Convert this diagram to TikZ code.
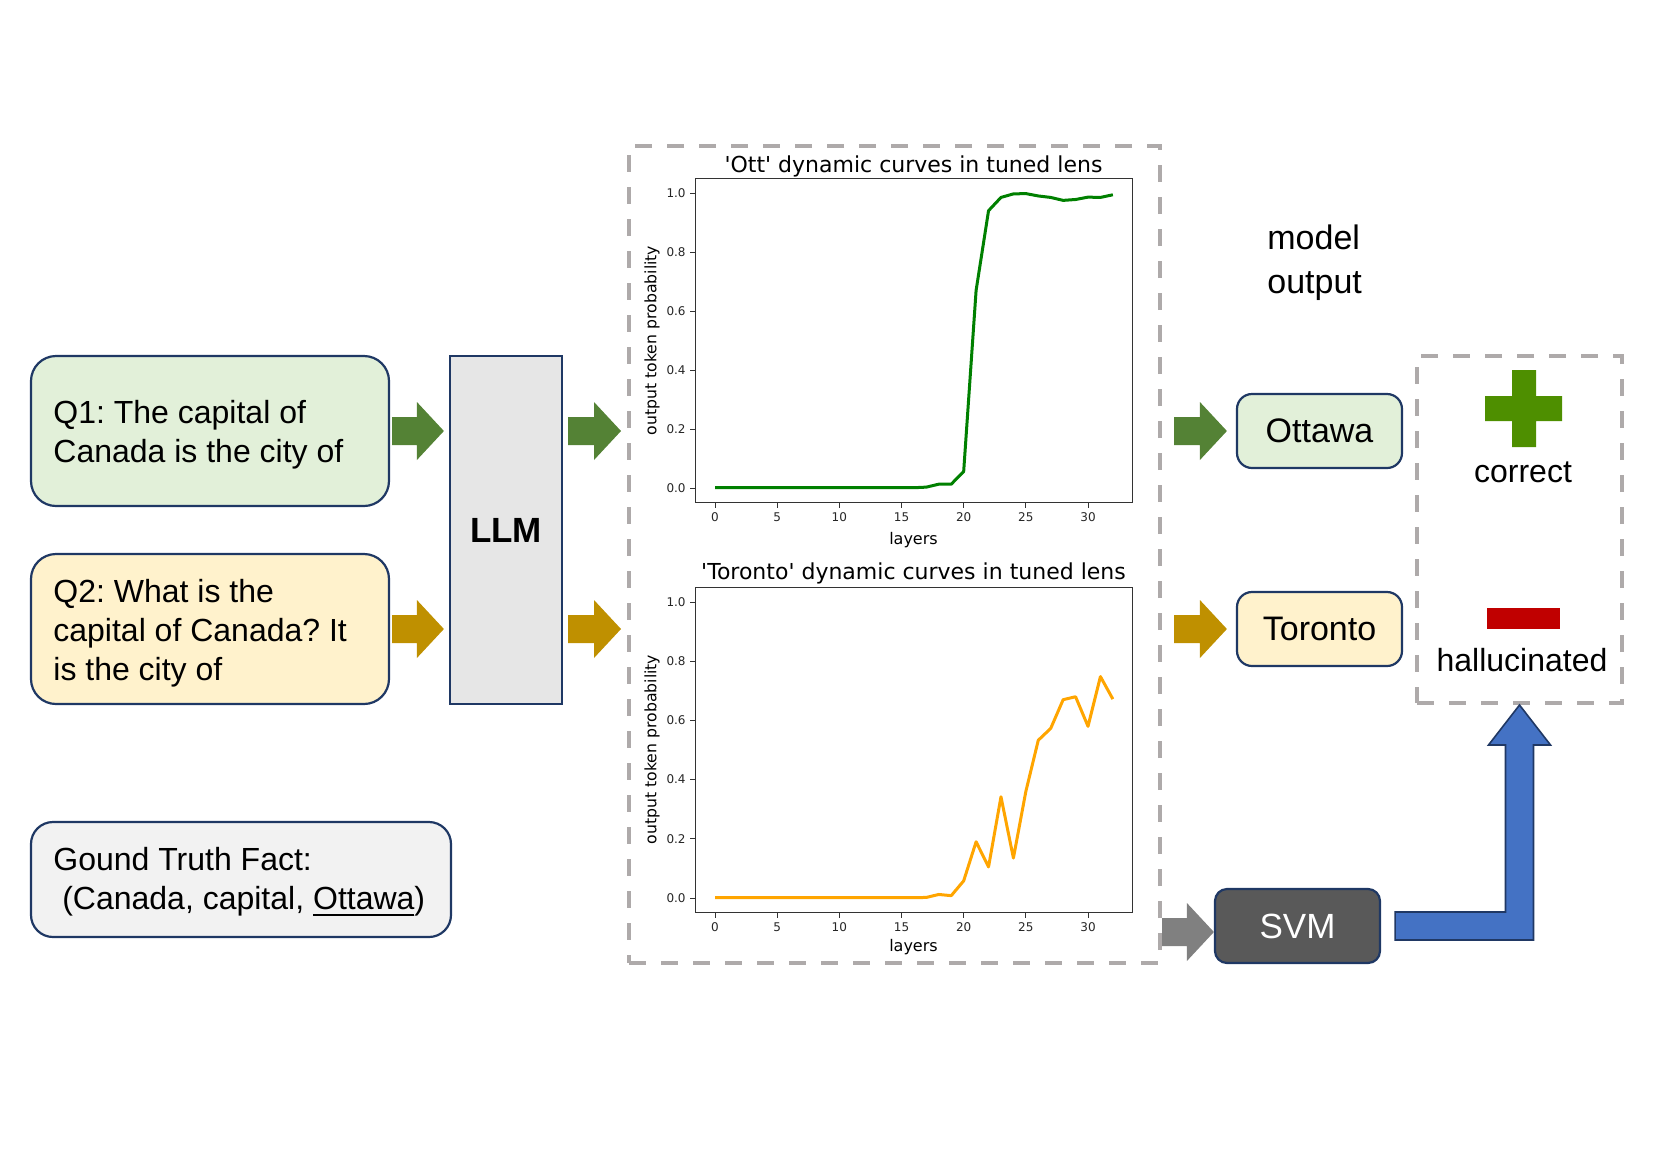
\documentclass[tikz,border=0pt]{standalone}
\usepackage{fontspec}
\setmainfont{Liberation Sans}
\newfontfamily\dejavu{DejaVu Sans}
\usetikzlibrary{calc}
\definecolor{navy}{HTML}{1F3864}
\definecolor{q1fill}{HTML}{E2F0D9}
\definecolor{q2fill}{HTML}{FFF2CC}
\definecolor{llmfill}{HTML}{E6E6E6}
\definecolor{gtfill}{HTML}{F2F2F2}
\definecolor{svmfill}{HTML}{595959}
\definecolor{dashgray}{HTML}{AEAAAA}
\definecolor{garr}{HTML}{548235}
\definecolor{yarr}{HTML}{BF9000}
\definecolor{grarr}{HTML}{808080}
\definecolor{plusgreen}{HTML}{4E8F00}
\definecolor{minusred}{HTML}{C00000}
\definecolor{bluefill}{HTML}{4472C4}
\definecolor{blueline}{HTML}{203864}
\definecolor{ottgreen}{HTML}{008000}
\definecolor{torange}{HTML}{FFA500}
\definecolor{framec}{HTML}{333333}
\definecolor{tickc}{HTML}{262626}
\newcommand\myul[1]{\sbox0{#1}\rlap{\rule[-3.2pt]{\wd0}{0.9pt}}\usebox0}
\newcommand\blockarr[3]{\fill[#3] let \p1=(#1), \p2=(#2) in
  (\x1,\y1+7pt) -- (\x2-13.5pt,\y1+7pt) -- (\x2-13.5pt,\y1+14.5pt) -- (\x2,\y1)
  -- (\x2-13.5pt,\y1-14.5pt) -- (\x2-13.5pt,\y1-7pt) -- (\x1,\y1-7pt) -- cycle;}
\newcommand\ticksfont{\dejavu\fontsize{6}{7}\selectfont}
\frenchspacing
\begin{document}
\begin{tikzpicture}[x=0.5pt,y=-0.5pt,
  bx/.style={draw=navy, line width=1.1pt, inner sep=0pt},
  dbox/.style={draw=dashgray, line width=2pt, dash pattern=on 8.5pt off 7.5pt, inner sep=0pt},
  qtxt/.style={font=\fontsize{16}{19.5}\selectfont, align=left, inner sep=0pt, anchor=north west},
  bigtxt/.style={font=\fontsize{17}{22}\selectfont},
  midtxt/.style={font=\fontsize{16}{19}\selectfont, inner sep=0pt, anchor=base},
  ttl/.style={font=\dejavu\fontsize{11}{13}\selectfont, anchor=base, inner sep=0pt},
  ylab/.style={font=\dejavu\fontsize{7.85}{9}\selectfont, rotate=90, inner sep=0pt},
  xlab/.style={font=\dejavu\fontsize{8}{9}\selectfont, inner sep=0pt},
  xtick/.style={anchor=north, inner sep=0pt, yshift=-2pt, font=\ticksfont, text=tickc},
  ytick/.style={anchor=east, inner sep=0pt, xshift=-2pt, font=\ticksfont, text=tickc},
  ]
\useasboundingbox (0,0) rectangle (1660,1174);

% left column
\node[bx, fill=q1fill, rounded corners=12.5pt, minimum width=179pt, minimum height=75pt] (q1) at (210,431) {};
\node[bx, fill=q2fill, rounded corners=12.5pt, minimum width=179pt, minimum height=75pt] (q2) at (210,629) {};
\node[qtxt] (q1t) at (53,400) {Q1: The capital of\\Canada is the city of};
\node[qtxt] (q2t) at (53,579) {Q2: What is the\\capital of Canada? It\\is the city of};
\node[bx, fill=llmfill, minimum width=56pt, minimum height=174pt, font=\fontsize{17.5}{21}\selectfont\bfseries] (llm) at (506,530) {LLM};
\node[bx, fill=gtfill, rounded corners=11pt, minimum width=210pt, minimum height=57.5pt] (gt) at (241,879.5) {};
\node[qtxt] (gtt) at (53,847) {Gound Truth Fact:\\\hspace*{4.45pt}(Canada, capital, \myul{Ottawa})};

% lens box
\node[dbox, minimum width=265.5pt, minimum height=408.5pt] (lens) at (894.5,554.5) {};

% right column
\node[bx, fill=q1fill, rounded corners=7.5pt, minimum width=82.5pt, minimum height=37pt, bigtxt] (ott) at (1319.5,431) {Ottawa};
\node[bx, fill=q2fill, rounded corners=7.5pt, minimum width=82.5pt, minimum height=37pt, bigtxt] (tor) at (1319.5,629) {Toronto};
\node[bx, fill=svmfill, text=white, rounded corners=6pt, minimum width=82.5pt, minimum height=37pt, font=\fontsize{17.5}{21}\selectfont] (svm) at (1297.5,926) {SVM};
\node[dbox, minimum width=102.5pt, minimum height=173.5pt] (res) at (1519.5,529.5) {};
\node[bigtxt, align=left, anchor=north west, inner sep=0pt] (mo) at (1267,224) {model\\output};
\fill[plusgreen] (1512,370) rectangle (1536,447) (1485,396) rectangle (1562,421);
\node[midtxt] (cor) at (1523,482) {correct};
\fill[minusred] (1487,608) rectangle (1560,629);
\node[midtxt] (hal) at (1522,671) {hallucinated};

% block arrows
\blockarr{$(q1.east)+(1pt,0)$}{$(llm.west)+(-2.5pt,0)$}{garr}
\blockarr{$(q2.east)+(1pt,0)$}{$(llm.west)+(-2.5pt,0)$}{yarr}
\blockarr{$(llm.east|-q1.east)+(2.5pt,0)$}{$(lens.west)+(-3pt,0)$}{garr}
\blockarr{$(llm.east|-q2.east)+(2.5pt,0)$}{$(lens.west)+(-3pt,0)$}{yarr}
\blockarr{$(lens.east|-ott.west)+(6pt,0)$}{$(ott.west)+(-4.5pt,0)$}{garr}
\blockarr{$(lens.east|-tor.west)+(6pt,0)$}{$(tor.west)+(-4.5pt,0)$}{yarr}
\blockarr{$(lens.east|-svm.west)+(0,-3pt)$}{svm.west}{grarr}
\filldraw[fill=bluefill, draw=blueline, line width=0.8pt] let \p1=($(svm.east)+(7pt,0)$), \p2=(res.south) in
  (\x1,\y1+7pt) -- (\x2-7pt,\y1+7pt) -- (\x2-7pt,\y2-20pt) -- (\x2-15.5pt,\y2-20pt) -- (\x2,\y2)
  -- (\x2+15.5pt,\y2-20pt) -- (\x2+7pt,\y2-20pt) -- (\x2+7pt,\y1-7pt) -- (\x1,\y1-7pt) -- cycle;

% plot 1
\node[ttl] (t1) at (913.5,172) {\textquotesingle Ott\textquotesingle\ dynamic curves in tuned lens};
\node[ylab] (yl1) at (652,340.5) {output token probability};
\node[xlab] (xl1) at (913.5,540) {layers};
\begin{scope}[xshift=357.5pt,yshift=-244pt,x=6.2167pt,y=147.5pt]
  \draw[framec, line width=0.6pt] (-1.6,-0.05) rectangle (33.6,1.05);
  \foreach \v in {0,5,...,30}
    \draw[framec, line width=0.5pt] (\v,-0.05) -- ++(0pt,-2.5pt) node[xtick] {\v};
  \foreach \v/\t in {0/0.0,0.2/0.2,0.4/0.4,0.6/0.6,0.8/0.8,1/1.0}
    \draw[framec, line width=0.5pt] (-1.6,\v) -- ++(-2.5pt,0pt) node[ytick] {\t};
  \draw[ottgreen, line width=1.5pt, line join=round] plot coordinates {
    (0,0.001) (1,0.001) (2,0.001) (3,0.001) (4,0.001) (5,0.001) (6,0.001) (7,0.001) (8,0.001)
    (9,0.001) (10,0.001) (11,0.001) (12,0.001) (13,0.001) (14,0.001) (15,0.001) (16,0.001)
    (17,0.003) (18,0.013) (19,0.013) (20,0.056) (21,0.67) (22,0.94) (23,0.985) (24,0.997)
    (25,0.998) (26,0.99) (27,0.985) (28,0.975) (29,0.978) (30,0.986) (31,0.985) (32,0.994)};
\end{scope}

% plot 2
\node[ttl] (t2) at (913.5,579) {\textquotesingle Toronto\textquotesingle\ dynamic curves in tuned lens};
\node[ylab] (yl2) at (652,749.5) {output token probability};
\node[xlab] (xl2) at (913.5,947) {layers};
\begin{scope}[xshift=357.5pt,yshift=-449pt,x=6.2167pt,y=148pt]
  \draw[framec, line width=0.6pt] (-1.6,-0.05) rectangle (33.6,1.05);
  \foreach \v in {0,5,...,30}
    \draw[framec, line width=0.5pt] (\v,-0.05) -- ++(0pt,-2.5pt) node[xtick] {\v};
  \foreach \v/\t in {0/0.0,0.2/0.2,0.4/0.4,0.6/0.6,0.8/0.8,1/1.0}
    \draw[framec, line width=0.5pt] (-1.6,\v) -- ++(-2.5pt,0pt) node[ytick] {\t};
  \draw[torange, line width=1.5pt, line join=round] plot coordinates {
    (0,0.001) (1,0.001) (2,0.001) (3,0.001) (4,0.001) (5,0.001) (6,0.001) (7,0.001) (8,0.001)
    (9,0.001) (10,0.001) (11,0.001) (12,0.001) (13,0.001) (14,0.001) (15,0.001) (16,0.001)
    (17,0.002) (18,0.012) (19,0.008) (20,0.058) (21,0.19) (22,0.105) (23,0.342) (24,0.135)
    (25,0.36) (26,0.533) (27,0.573) (28,0.67) (29,0.68) (30,0.58) (31,0.748) (32,0.672)};
\end{scope}
\end{tikzpicture}
\end{document}
